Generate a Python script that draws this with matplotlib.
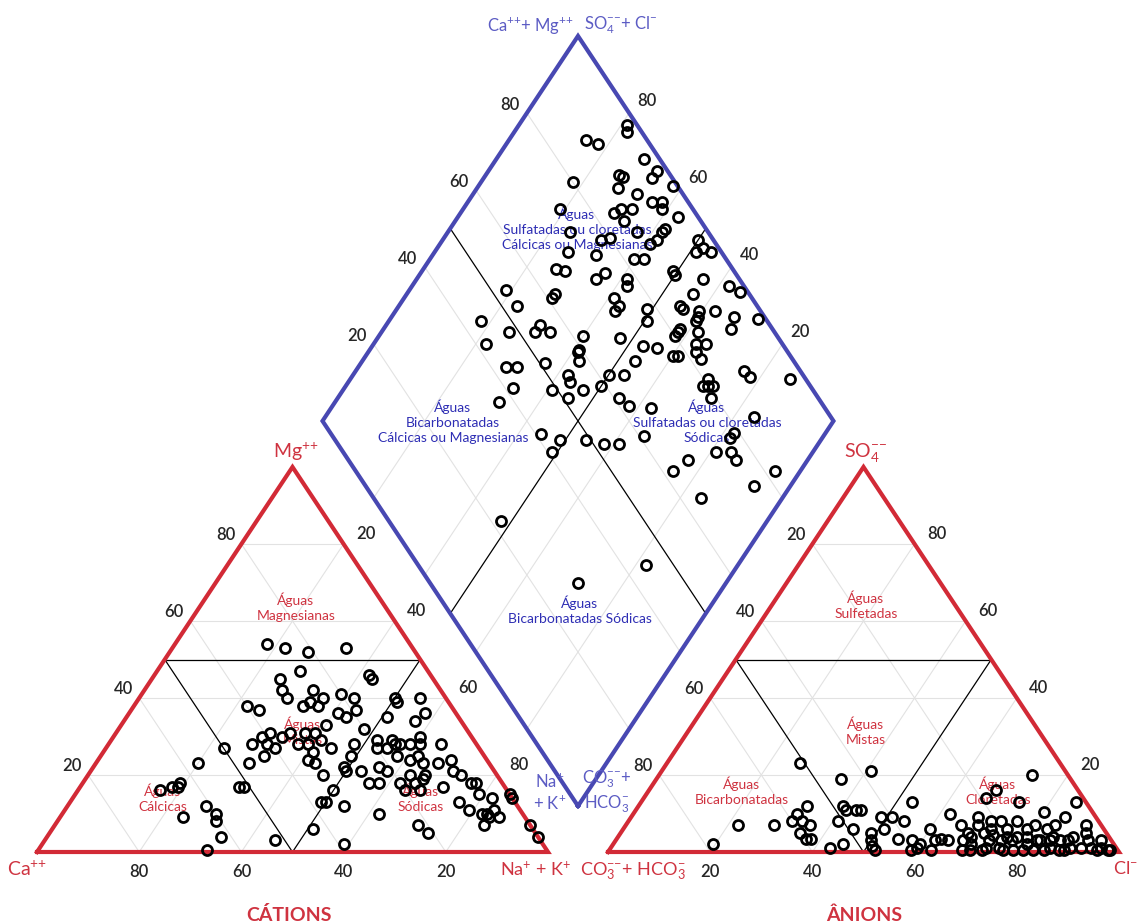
"""Piper diagram: cations / anions triangles and the central diamond."""

import matplotlib
matplotlib.use("Agg")
import matplotlib.pyplot as plt

plt.rcParams["font.family"] = ["Lato", "DejaVu Sans"]
plt.rcParams["mathtext.fontset"] = "custom"
plt.rcParams["mathtext.rm"] = "Lato"
plt.rcParams["mathtext.default"] = "rm"

# --- data (% meq) ------------------------------------------------------------
TICKS = [20, 40, 60, 80]

# cations: Mg and Na+K (Ca = 100 - Mg - Na+K)
cat_mg = [54, 53, 52, 53, 47, 46, 45, 45, 42, 40, 42, 40, 39, 38, 38, 41, 40, 38, 37, 40,
          39, 40, 36, 37, 35, 35, 36, 34, 33, 31, 31, 32, 31, 30, 31, 30, 28, 28, 28, 28,
          29, 27, 27, 25, 26, 23, 24, 23, 30, 29, 29, 28, 27, 27, 28, 28, 28, 28, 28, 25,
          25, 24, 23, 25, 27, 23, 23, 24, 22, 21, 22, 20, 21, 21, 18, 18, 20, 20, 18, 19,
          21, 20, 18, 18, 17, 15, 18, 16, 16, 13, 11, 10, 10, 14, 11, 9, 7, 9, 15, 14,
          7, 4, 7, 5, 10, 12, 16, 13, 13, 6, 2, 3, 17, 17, 18, 17, 16, 17, 9, 12,
          10, 8, 4, 0.5]
cat_na = [18, 22, 27, 34, 28, 42, 43, 25, 27, 29, 33, 36, 34, 36, 33, 39, 42, 22, 25, 50,
          51, 55, 41, 44, 43, 51, 58, 57, 40, 39, 37, 48, 34, 33, 30, 29, 28, 31, 37, 39,
          41, 44, 33, 32, 41, 30, 41, 43, 60, 52, 55, 56, 53, 55, 57, 59, 61, 65, 48, 49,
          62, 61, 64, 58, 23, 20, 67, 69, 56, 58, 49, 46, 50, 53, 56, 58, 63, 66, 65, 66,
          71, 73, 76, 77, 71, 79, 62, 64, 67, 76, 79, 82, 83, 82, 84, 86, 84, 84, 85, 86,
          93, 96, 71, 74, 62, 54, 50, 50, 49, 51, 59, 45, 32, 31, 19, 19, 16, 18, 24, 27,
          30, 31, 34, 33]

# anions: SO4 and Cl (CO3 + HCO3 = 100 - SO4 - Cl)
an_so4 = [23, 21, 19, 20, 16, 14, 13, 13, 13, 12, 11, 11, 11, 12, 10, 8, 8, 7, 5, 3.5,
          3.5, 7, 7, 2, 8, 6, 2, 1, 9, 9, 8, 6, 5, 3, 1.5, 0.5, 3.5, 3, 0.5, 1,
          6, 3, 0.5, 10, 3, 7, 0.5, 5, 2, 9, 7, 5, 0.5, 3, 8, 4.5, 1, 8, 6, 0.5,
          8, 4, 6, 2, 0.5, 7, 3, 10.5, 6, 1, 4, 7, 0.5, 9, 3, 1, 7, 5, 3, 1,
          3, 1, 0.5, 0.5, 4, 0.5, 1, 4, 3, 3, 0.5, 1, 0.5, 3, 3, 3, 0.5, 0.5, 0.5, 3,
          6, 4, 4, 3.5, 2]
an_cl = [26, 41, 36, 73, 68, 67, 74, 85, 53, 40, 41, 43, 44, 33, 32, 32, 34, 36, 35, 37,
         38, 22, 29, 19.5, 41, 45, 45, 43, 49, 51, 54, 51, 49, 50, 51, 52, 55, 58, 59, 60,
         60, 62.5, 63, 62, 65, 65.5, 69, 68, 70, 68, 69, 71, 73, 73, 71, 73, 76, 73, 75, 79,
         76, 78, 79, 81, 83, 80, 82.5, 80, 83, 86, 85, 84, 88, 85, 88.5, 90, 90, 91, 92.5, 94,
         95, 96, 97.5, 98, 69, 70.5, 73.4, 80, 85, 87, 89, 92, 95.5, 75.5, 77.6, 68, 85, 81, 77, 83,
         72, 76, 89, 63.5, 60]

# diamond: Ca+Mg and SO4+Cl
dia_camg = [79, 78, 85, 82, 82, 71, 67, 74, 73, 67, 72.5, 62, 68, 62, 64, 61, 81, 67, 69, 70,
            67, 57, 58, 58, 63, 76, 67.5, 69, 58, 59, 50, 74, 48, 49, 46, 68, 60, 58, 74, 72,
            51, 50, 64, 65, 59, 58, 44, 81, 38, 35, 71, 71, 44, 59, 57, 57, 77, 45, 44, 40.5,
            37.5, 51, 49.5, 40, 40, 33, 32, 28, 82, 78, 75, 70, 70, 67, 42, 42, 38, 60, 52.5, 59,
            59, 42, 47, 44, 37, 35, 36, 40, 39, 34, 71, 69, 64, 57.5, 46.5, 50, 47, 24, 22, 14,
            58, 56.5, 59, 53, 50, 30, 29, 30, 28, 67, 55, 68, 45, 42, 37.5, 27, 16, 55.5, 51, 51,
            46, 42, 39, 35, 18, 18, 16, 14, 19, 23.5, 25, 5, 7, 16, 52, 18, 29]
dia_so4cl = [98, 97, 88, 90, 80, 97, 98, 90, 90.5, 96, 88, 99, 91, 95, 93, 94, 74, 88, 86, 84,
             85, 96, 92, 91, 86, 73, 80, 78, 89, 87, 97, 70, 97, 95, 98, 75, 82, 84, 65.5, 67,
             88, 88, 74.5, 72, 78, 77, 93, 53, 97, 98.5, 62, 61, 89, 73, 73, 71.5, 53, 85, 85, 88,
             91, 78, 76.6, 87, 86, 94, 92, 98.6, 44, 42, 48, 53, 55, 56, 82, 81, 85, 62, 69, 59.5,
             59, 80, 72.5, 75, 83, 85, 82, 77, 78, 82, 43, 45, 51, 58, 69, 62, 65, 89, 89.5, 97,
             54, 53.5, 49, 55, 59, 81, 80, 79, 81, 41.5, 51, 37, 61, 62, 66, 79, 85, 41, 44, 41,
             49, 52, 55, 61, 79, 77.5, 76, 76, 73, 66.5, 62, 82, 76, 64, 22, 44.5, 29]

# --- layout (figure pixels) ----------------------------------------------------
SIDE, HEIGHT = 511, 385          # triangle side / drawn height (image is squashed)
BASE_Y = 852
X_CAT, X_AN = 37, 608            # left corners of the two triangles
BX, BY = 578, 806                # bottom vertex of the diamond

RED, BLUE = "#d22a36", "#4848b2"
RED_TXT, BLUE_TXT, BLUE_LBL = "#cf3340", "#2e2eb4", "#5c5cc4"
GRID = "#e2e2e2"

PP, MM, M = r"^{{+}{+}}", r"^{{-}{-}}", r"^{{-}}"


def tri_xy(x0, top, right):
    xs = [x0 + (r + t / 2) / 100 * SIDE for t, r in zip(top, right)]
    ys = [BASE_Y - t / 100 * HEIGHT for t in top]
    return xs, ys


def dia_xy(camg, so4cl):
    xs = [BX + (s - c) / 100 * SIDE / 2 for c, s in zip(camg, so4cl)]
    ys = [BY - (c + s) / 100 * HEIGHT for c, s in zip(camg, so4cl)]
    return xs, ys


fig = plt.figure(figsize=(11.39, 9.23), dpi=100)
ax = fig.add_axes([0, 0, 1, 1])
ax.set_xlim(0, 1139); ax.set_ylim(923, 0); ax.axis("off")


def seg(xy, **kw):
    ax.plot(xy[0], xy[1], **kw)


# triangles: grid, inner lines, outline
for x0 in (X_CAT, X_AN):
    T = lambda top, right: tri_xy(x0, top, right)
    for v in TICKS:
        seg(T([v, v], [0, 100 - v]), color=GRID, lw=0.8, zorder=1)
        seg(T([0, 100 - v], [v, v]), color=GRID, lw=0.8, zorder=1)
        seg(T([0, 100 - v], [100 - v, 0]), color=GRID, lw=0.8, zorder=1)
    seg(T([50, 50], [0, 50]), color="black", lw=0.9, zorder=2)
    seg(T([50, 0, 50], [0, 50, 50]), color="black", lw=0.9, zorder=2)
    seg(T([0, 0, 100, 0], [0, 100, 0, 0]), color=RED, lw=3, zorder=3, solid_joinstyle="miter")

# diamond
for v in TICKS:
    seg(dia_xy([v, v], [0, 100]), color=GRID, lw=0.8, zorder=1)
    seg(dia_xy([0, 100], [v, v]), color=GRID, lw=0.8, zorder=1)
seg(dia_xy([50, 50], [0, 100]), color="black", lw=0.9, zorder=2)
seg(dia_xy([0, 100], [50, 50]), color="black", lw=0.9, zorder=2)
seg(dia_xy([0, 100, 100, 0, 0], [0, 0, 100, 100, 0]), color=BLUE, lw=3, zorder=3,
    solid_joinstyle="miter")

# tick numbers
num = dict(fontsize=12, fontweight="semibold", color="#262626", ha="center", va="center",
           zorder=4)
for v in TICKS:
    for x0 in (X_CAT, X_AN):
        lx, ly = tri_xy(x0, [v], [0])
        ax.text(lx[0] - 16, ly[0] - 9, str(v if x0 == X_CAT else 100 - v), **num)
        rx, ry = tri_xy(x0, [100 - v], [v])
        ax.text(rx[0] + 22, ry[0] - 10, str(v if x0 == X_CAT else 100 - v), **num)
        bx, _ = tri_xy(x0, [0], [v])
        ax.text(bx[0], BASE_Y + 20, str(100 - v if x0 == X_CAT else v), **num)
    ux, uy = dia_xy([100], [v])
    ax.text(ux[0] - 17, uy[0] - 8, str(v), **num)
    ux, uy = dia_xy([v], [100])
    ax.text(ux[0] + 18, uy[0] - 12, str(v), **num)

# corner labels
lab = dict(ha="center", va="center", zorder=4)
ax.text(296, 452, rf"Mg${PP}$", fontsize=14, color=RED_TXT, **lab)
ax.text(27, 869, rf"Ca${PP}$", fontsize=14, color=RED_TXT, **lab)
ax.text(571, 869, r"Na$^{+}$ + K$^{+}$", fontsize=13, color=RED_TXT, ha="right",
        va="center", zorder=4)
ax.text(866, 453, rf"SO$_4{MM}$", fontsize=14, color=RED_TXT, **lab)
ax.text(580, 871, rf"CO$_3{MM}$+ HCO$_3{M}$", fontsize=13, color=RED_TXT, ha="left",
        va="center", zorder=4)
ax.text(1138, 869, rf"Cl${M}$", fontsize=13, color=RED_TXT, ha="right", va="center",
        zorder=4)
ax.text(289, 915, "CÁTIONS", fontsize=14, fontweight="bold", color=RED_TXT, **lab)
ax.text(864, 915, "ÂNIONS", fontsize=14, fontweight="bold", color=RED_TXT, **lab)
ax.text(530, 25, rf"Ca${PP}$+ Mg${PP}$", fontsize=12, color=BLUE_LBL, **lab)
ax.text(621, 25, rf"SO$_4{MM}$+ Cl${M}$", fontsize=12, color=BLUE_LBL, **lab)
ax.text(550, 792, "Na$^{+}$\n+ K$^{+}$", fontsize=12, color=BLUE_LBL, linespacing=1.25, **lab)
ax.text(607, 792, f"CO$_3{MM}$+\nHCO$_3{M}$", fontsize=12, color=BLUE_LBL,
        linespacing=1.25, **lab)

# region names
reg = dict(fontsize=10, ha="center", va="center", linespacing=1.3, zorder=4)
for x, y, s in [(296, 607, "Águas\nMagnesianas"), (303, 731, "Águas\nMistas"),
                (163, 798, "Águas\nCálcicas"), (421, 798, "Águas\nSódicas"),
                (866, 605, "Águas\nSulfetadas"), (866, 731, "Águas\nMistas"),
                (742, 791, "Águas\nBicarbonatadas"), (998, 791, "Águas\nCloretadas")]:
    ax.text(x, y, s, color=RED_TXT, **reg)
for x, y, s in [(577, 229, "Águas\nSulfatadas ou cloretadas\nCálcicas ou Magnesianas"),
                (453, 422, "Águas\nBicarbonatadas\nCálcicas ou Magnesianas"),
                (707, 422, "Águas\nSulfatadas ou cloretadas\nSódicas"),
                (580, 610, "Águas\nBicarbonatadas Sódicas")]:
    ax.text(x, y, s, color=BLUE_TXT, **reg)

# samples
pt = dict(ls="none", marker="o", ms=7.2, mfc="none", mec="black", mew=2, zorder=5)
ax.plot(*tri_xy(X_CAT, cat_mg, cat_na), **pt)
ax.plot(*tri_xy(X_AN, an_so4, an_cl), **pt)
ax.plot(*dia_xy(dia_camg, dia_so4cl), **pt)

fig.savefig("out.png", dpi=100)
